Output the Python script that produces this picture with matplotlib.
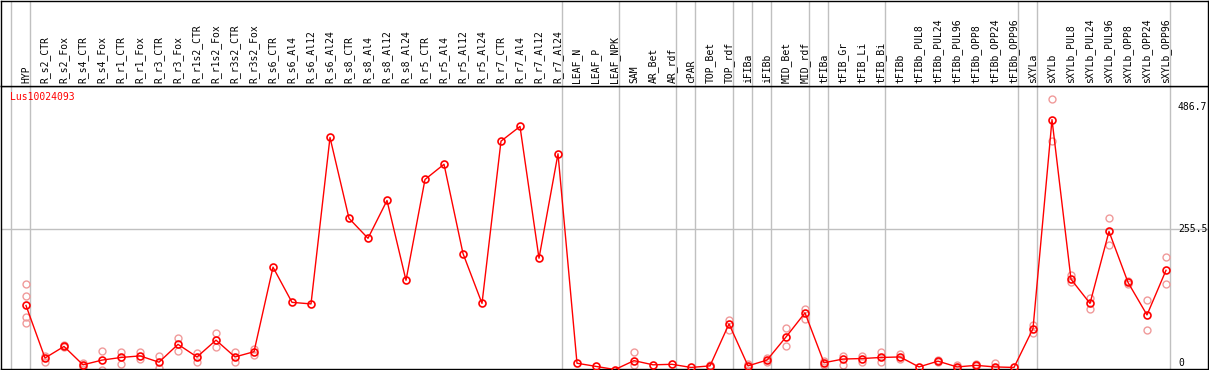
import numpy as np
import matplotlib
matplotlib.use('Agg')
import matplotlib.pyplot as plt
import matplotlib.transforms as mtrans

# sample names (columns)
samples = ['HYP', 'R_s2_CTR', 'R_s2_Fox', 'R_s4_CTR', 'R_s4_Fox', 'R_r1_CTR', 'R_r1_Fox',
           'R_r3_CTR', 'R_r3_Fox', 'R_r1s2_CTR', 'R_r1s2_Fox', 'R_r3s2_CTR', 'R_r3s2_Fox',
           'R_s6_CTR', 'R_s6_Al4', 'R_s6_Al12', 'R_s6_Al24', 'R_s8_CTR', 'R_s8_Al4',
           'R_s8_Al12', 'R_s8_Al24', 'R_r5_CTR', 'R_r5_Al4', 'R_r5_Al12', 'R_r5_Al24',
           'R_r7_CTR', 'R_r7_Al4', 'R_r7_Al12', 'R_r7_Al24', 'LEAF_N', 'LEAF_P', 'LEAF_NPK',
           'SAM', 'AR_Bet', 'AR_rdf', 'cPAR', 'TOP_Bet', 'TOP_rdf', 'iFIBa', 'iFIBb',
           'MID_Bet', 'MID_rdf', 'tFIBa', 'tFIB_Gr', 'tFIB_Li', 'tFIB_Bi', 'tFIBb',
           'tFIBb_PUL8', 'tFIBb_PUL24', 'tFIBb_PUL96', 'tFIBb_OPP8', 'tFIBb_OPP24',
           'tFIBb_OPP96', 'sXYLa', 'sXYLb', 'sXYLb_PUL8', 'sXYLb_PUL24', 'sXYLb_PUL96',
           'sXYLb_OPP8', 'sXYLb_OPP24', 'sXYLb_OPP96']

# mean expression per sample
means = [109, 9, 31, -4, 5, 10, 13, 1, 35, 11, 43, 11, 21,
         182, 115, 112, 429, 275, 237, 309, 157, 349, 378, 208, 113,
         422, 450, 199, 398, -1, -7, -13,
         4, -4, -3, -9, -6, 74, -6, 5, 49, 95,
         0, 7, 8, 10, 11, -8, 3, -8, -5, -8, -9,
         65, 463, 159, 113, 250, 153, 91, 176]

# individual replicates
replicates = [[149, 128, 88, 75], [13, 1], [33, 29], [-1, -8], [22, -14], [20, -2],
              [21, 7], [13, -10], [47, 23], [18, 2], [57, 30], [21, 2], [27, 15],
              [], [], [], [], [], [], [], [], [], [], [], [],
              [], [], [], [], [], [], [],
              [21, -4], [], [], [], [-4, -8], [81, 62], [-3, -9], [9, 2], [67, 32], [103, 83],
              [3, -4], [13, -4], [13, 2], [20, 2], [16, 8], [], [5, 1], [-4, -10], [-3, -7],
              [-1, -10], [],
              [72, 57], [503, 423], [167, 153], [124, 103], [275, 225], [156, 150],
              [119, 62], [202, 149]]

# group separators (after these sample indices)
separators = [-1, 0, 28, 31, 34, 35, 37, 38, 39, 41, 42, 45, 52, 53, 60]
ytick_vals = [486.7, 255.5, 0]
gene = 'Lus10024093'

W, H = 1209, 370
fig = plt.figure(figsize=(W / 100, H / 100), dpi=100)
ax = fig.add_axes([1 / W, 1.5 / H, 1207 / W, 283 / H])
hax = fig.add_axes([1 / W, 284.5 / H, 1207 / W, 85 / H])

x = np.arange(len(samples))
xlim = ((1 - 26) / 19, (1208 - 26) / 19)
for a in (ax, hax):
    a.set_xlim(*xlim)
    a.set_xticks([])
    a.set_yticks([])
    for s in a.spines.values():
        s.set_color('black')
        s.set_linewidth(1.0)
    for sp in separators:
        a.axvline(sp + 0.2, color='#c0c0c0', lw=1, zorder=0)

ax.set_ylim(-11, 528)
hax.set_ylim(0, 1)
ax.axhline(255.5, color='#c0c0c0', lw=1, zorder=0)

# replicates
for i, reps in enumerate(replicates):
    if reps:
        ax.plot([i] * len(reps), reps, 'o', ms=5, mfc='none', mec='#f09a9a', mew=1, zorder=2)

# mean line
ax.plot(x, means, '-', color='red', lw=1, zorder=3)
ax.plot(x, means, 'o', ms=5, mfc='none', mec='red', mew=1.2, zorder=4)

# header labels
for i, name in enumerate(samples):
    hax.text(i, 0.03, name, rotation=90, ha='center', va='bottom',
             fontsize=7, family='DejaVu Sans Mono')

ax.text(9 / 1207, 0.958, gene, transform=ax.transAxes, color='red', fontsize=7,
        family='DejaVu Sans Mono', va='center', ha='left')

trans = mtrans.blended_transform_factory(ax.transAxes, ax.transData)
for v in ytick_vals:
    lab = '0' if v == 0 else f'{v}'
    ax.text(1177 / 1207, v, lab, transform=trans, fontsize=7, family='DejaVu Sans Mono',
            va='center', ha='left')

fig.savefig('out.png', dpi=100)
